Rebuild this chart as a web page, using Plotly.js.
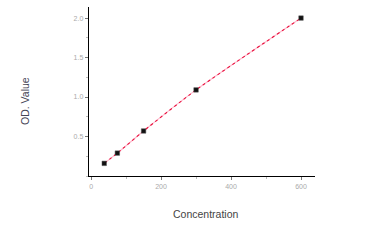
<!DOCTYPE html>
<html>
<head>
<meta charset="utf-8">
<script src="https://cdn.plot.ly/plotly-3.0.1.min.js"></script>
<style>html,body{margin:0;padding:0;background:#fff}#chart{width:375px;height:250px}</style>
</head>
<body>
<div id="chart"></div>
<script>
var concentration = [37.5, 75, 150, 300, 600];
var odValue = [0.16, 0.29, 0.57, 1.09, 2.0];
var xTickVals = [0, 200, 400, 600];
var xTickText = ["0", "200", "400", "600"];
var yTickVals = [0.5, 1.0, 1.5, 2.0];
var yTickText = ["0.5", "1.0", "1.5", "2.0"];
var xTitle = 'Concentration';
var yTitle = 'OD. Value';

var traces = [
  {x: concentration, y: odValue, type: 'scatter', mode: 'lines',
   line: {color: '#ffb8cc', width: 1.1, shape: 'spline', smoothing: 0.6},
   hoverinfo: 'skip', showlegend: false},
  {x: concentration, y: odValue, type: 'scatter', mode: 'lines',
   line: {color: '#e8103c', width: 1.1, dash: 'dot', shape: 'spline', smoothing: 0.6},
   showlegend: false},
  {x: concentration, y: odValue, type: 'scatter', mode: 'markers',
   marker: {symbol: 'square', size: 4.5, color: '#111', line: {color: '#555', width: 0.5}},
   showlegend: false}
];

var layout = {
  width: 375, height: 250,
  margin: {l: 89, r: 60, t: 7, b: 74},
  paper_bgcolor: '#fff', plot_bgcolor: '#fff',
  font: {family: 'Liberation Sans, Arial, sans-serif', size: 7, color: '#999'},
  xaxis: {
    range: [-6, 640], showgrid: false, zeroline: false,
    showline: true, linecolor: '#000', linewidth: 1.3,
    tickmode: 'array', tickvals: xTickVals, ticktext: xTickText,
    ticks: 'outside', ticklen: 3, tickcolor: '#777', tickwidth: 1,
    minor: {dtick: 100, tick0: 0, ticks: 'outside', ticklen: 2, tickcolor: '#bbb'},
    tickfont: {size: 7, color: '#aaa'},
    automargin: false
  },
  yaxis: {
    range: [0, 2.14], showgrid: false, zeroline: false,
    showline: true, linecolor: '#000', linewidth: 1.3,
    tickmode: 'array', tickvals: yTickVals, ticktext: yTickText,
    ticks: 'outside', ticklen: 3, tickcolor: '#777', tickwidth: 1,
    minor: {dtick: 0.25, tick0: 0, ticks: 'outside', ticklen: 2, tickcolor: '#bbb'},
    tickfont: {size: 7, color: '#aaa'},
    automargin: false
  },
  annotations: [
    {text: xTitle, xref: 'paper', yref: 'paper', x: 0.518, y: -0.225,
     xanchor: 'center', yanchor: 'middle', showarrow: false,
     font: {size: 10.5, color: '#444'}},
    {text: yTitle, xref: 'paper', yref: 'paper', x: -0.283, y: 0.444,
     xanchor: 'center', yanchor: 'middle', showarrow: false, textangle: -90,
     font: {size: 10.5, color: '#445'}}
  ]
};
Plotly.newPlot('chart', traces, layout, {displayModeBar: false, staticPlot: true});
</script>
</body>
</html>
